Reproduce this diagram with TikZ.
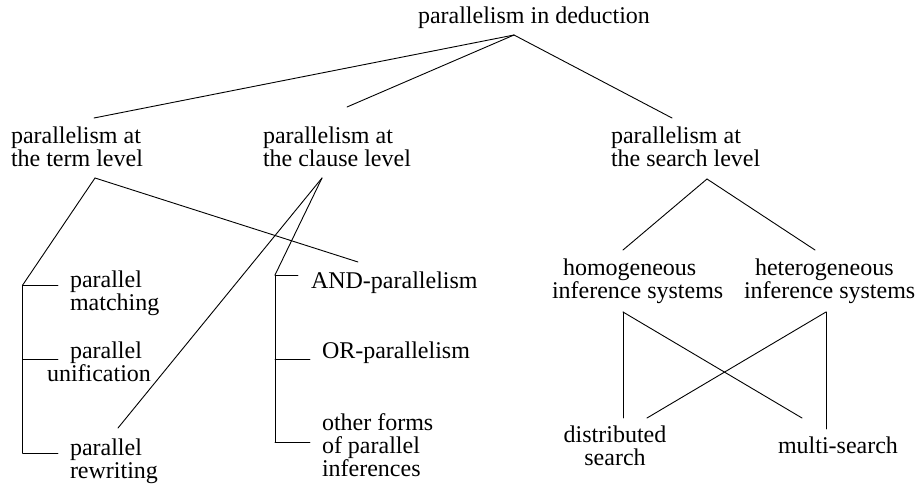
\documentclass[tikz,border=0pt]{standalone}
\usepackage{fontspec}
\setmainfont{Liberation Serif}
\begin{document}
\begin{tikzpicture}[x=1pt,y=-1pt,
  lbl/.style={font=\fontsize{24}{22.8}\selectfont, inner sep=0pt, outer sep=0pt, anchor=north west, align=left},
  lblc/.style={lbl, anchor=north, align=center},
  conn/.style={line width=0.9pt, line cap=round}]
\useasboundingbox (0,0) rectangle (916,486);
% texts
\node[lbl] (root) at (418,6.6) {parallelism in deduction};
\node[lbl] (term) at (11,126.6) {parallelism at\\the term level};
\node[lbl] (clause) at (263,126.6) {parallelism at\\the clause level};
\node[lbl] (search) at (611,126.6) {parallelism at\\the search level};
\node[lbl] (match) at (70,271) {parallel\\matching};
\node[lbl] (unif) at (47,341.6) {\hspace*{23pt}parallel\\unification};
\node[lbl] (rewr) at (70,438.6) {parallel\\rewriting};
\node[lbl] (andp) at (311,271.6) {AND-parallelism};
\node[lbl] (orp) at (322,341.6) {OR-parallelism};
\node[lbl] (other) at (322,413.6) {other forms\\of parallel\\inferences};
\node[lbl] (homo) at (552,258.6) {\hspace*{11pt}homogeneous\\inference systems};
\node[lbl] (hete) at (744,258.6) {\hspace*{11pt}heterogeneous\\inference systems};
\node[lblc] (dist) at (615,425.6) {distributed\\search};
\node[lbl] (multi) at (778,436.6) {multi-search};
% junction coordinates
\coordinate (rootJ) at (514,35);
\coordinate (termT) at (94,118);
\coordinate (clauseT) at (347,107);
\coordinate (searchT) at (672,118);
\coordinate (termJ) at (95,178);
\coordinate (clauseJ) at (322,178);
\coordinate (searchJ) at (707,179);
\coordinate (lbTop) at (22.7,285);
\coordinate (lbMid) at (22.7,359);
\coordinate (lbBot) at (22.7,453);
\coordinate (matchT) at (58,285);
\coordinate (unifT) at (58,359);
\coordinate (rewrT) at (58,453);
\coordinate (rewrE) at (118,428);
\coordinate (andE) at (358,262);
\coordinate (cbTop) at (275,275);
\coordinate (cbMid) at (275,359);
\coordinate (cbBot) at (275,442);
\coordinate (andT) at (298,275);
\coordinate (orT) at (310,359);
\coordinate (otherT) at (310,442);
\coordinate (homoT) at (623,250);
\coordinate (heteT) at (815,250);
\coordinate (homoJ) at (623,312);
\coordinate (heteJ) at (826,312);
\coordinate (distA) at (623,418);
\coordinate (distB) at (647,418);
\coordinate (multiA) at (802,418);
\coordinate (multiB) at (826,429);
% connectors
\draw[conn] (rootJ) -- (termT);
\draw[conn] (rootJ) -- (clauseT);
\draw[conn] (rootJ) -- (searchT);
\draw[conn] (termJ) -- (lbTop);
\draw[conn] (termJ) -- (andE);
\draw[conn] (clauseJ) -- (cbTop);
\draw[conn] (clauseJ) -- (rewrE);
\draw[conn] (lbTop) -- (lbBot);
\draw[conn] (lbTop) -- (matchT);
\draw[conn] (lbMid) -- (unifT);
\draw[conn] (lbBot) -- (rewrT);
\draw[conn] (cbTop) -- (cbBot);
\draw[conn] (cbTop) -- (andT);
\draw[conn] (cbMid) -- (orT);
\draw[conn] (cbBot) -- (otherT);
\draw[conn] (searchJ) -- (homoT);
\draw[conn] (searchJ) -- (heteT);
\draw[conn] (homoJ) -- (distA);
\draw[conn] (homoJ) -- (multiA);
\draw[conn] (heteJ) -- (multiB);
\draw[conn] (heteJ) -- (distB);
\end{tikzpicture}
\end{document}
